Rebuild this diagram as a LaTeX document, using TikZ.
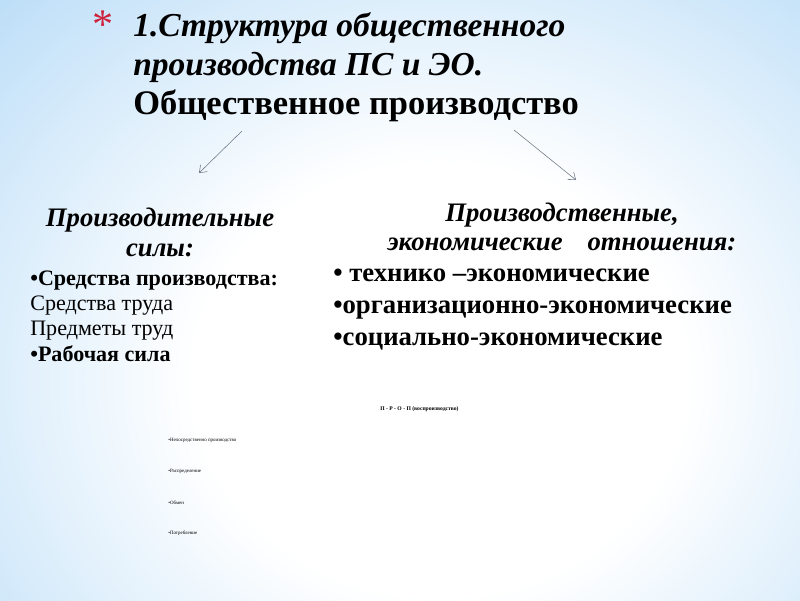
\documentclass[tikz,border=0pt]{standalone}
\usepackage{fontspec}
\setmainfont{Liberation Serif}
\usetikzlibrary{arrows.meta}

\definecolor{skyedge}{RGB}{160,208,245}
\definecolor{starred}{RGB}{205,35,60}
\definecolor{arrowgray}{RGB}{110,120,132}
\pgfdeclareradialshading{slideglow}{\pgfpointorigin}{color(0bp)=(white); color(11bp)=(white); color(35bp)=(skyedge); color(50bp)=(skyedge)}

\tikzset{
  titletext/.style={font=\bfseries\fontsize{24.5}{27.7}\selectfont, align=left, inner sep=0},
  heading/.style={font=\bfseries\itshape\fontsize{19}{20.3}\selectfont, align=center, inner sep=0},
  itemtext/.style={font=\fontsize{15.7}{18}\selectfont, align=left, inner sep=0},
  bigitem/.style={font=\bfseries\fontsize{19}{22.5}\selectfont, align=left, inner sep=0},
  tinytext/.style={font=\bfseries\fontsize{4}{5}\selectfont, inner sep=0, anchor=base west},
  splitarrow/.style={draw=arrowgray, line width=0.4pt, -{Straight Barb[length=1.6mm,width=2.4mm]}}
}

\begin{document}
\begin{tikzpicture}[x=0.025cm,y=-0.025cm]
  % background
  \useasboundingbox (0,0) rectangle (800,600);
  \begin{scope}
    \clip (0,0) rectangle (800,600);
    \shade[shading=slideglow] (-120,-110) rectangle (1000,870);
  \end{scope}

  % title
  \node[text=starred, font=\fontsize{30}{30}\selectfont, inner sep=0] (star) at (103,25) {*};
  \node[titletext, anchor=base west] (title) at (133,114)
    {\textit{\fontsize{23.8}{27.7}\selectfont 1.Структура общественного}\\
     \textit{\fontsize{23.8}{27.7}\selectfont производства ПС и ЭО.}\\
     Общественное производство};

  % two blocks
  \node[heading, anchor=base] (forces) at (160,256) {Производительные\\[1pt]силы:};
  \node[itemtext, anchor=base west] (forceitems) at (30,361)
    {\textbf{•Средства производства:}\\
     Средства труда\\
     Предметы труд\\
     \textbf{•Рабочая сила}};

  \node[heading, anchor=base] (relations) at (562,250)
    {Производственные,\\\makebox[248pt][s]{экономические отношения:}};
  \node[bigitem, anchor=base west] (relitems) at (333,345)
    {• технико –экономические\\
     •организационно-экономические\\
     •социально-экономические};

  % arrows
  \coordinate (splitL) at (242,131);
  \coordinate (toForces) at (199,173);
  \coordinate (splitR) at (514,130);
  \coordinate (toRelations) at (576,180);
  \draw[splitarrow] (splitL) -- (toForces);
  \draw[splitarrow] (splitR) -- (toRelations);

  % small print
  \node[tinytext] (cycle) at (380,410) {П - Р - О - П (воспроизводство)};
  \node[tinytext, font=\fontsize{3.5}{4}\selectfont] (phase1) at (168,441) {•Непосредственно производство};
  \node[tinytext, font=\fontsize{3.5}{4}\selectfont] (phase2) at (168,472) {•Распределение};
  \node[tinytext, font=\fontsize{3.5}{4}\selectfont] (phase3) at (168,504) {•Обмен};
  \node[tinytext, font=\fontsize{3.5}{4}\selectfont] (phase4) at (168,534) {•Потребление};
\end{tikzpicture}
\end{document}
